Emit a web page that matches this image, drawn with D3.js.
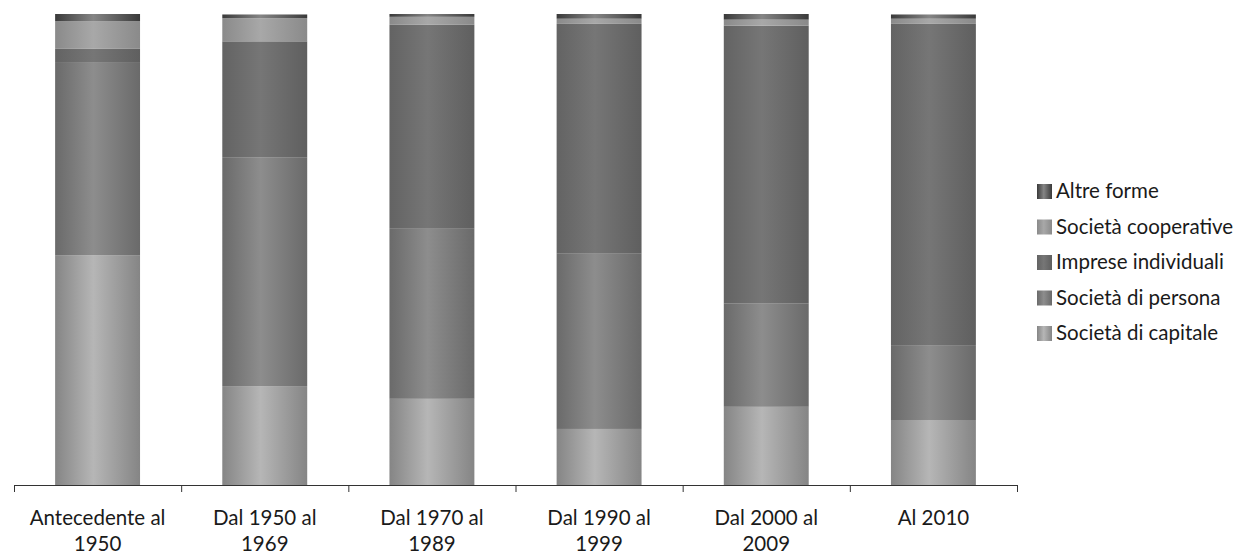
<!DOCTYPE html>
<html><head><meta charset="utf-8">
<script src="https://cdn.jsdelivr.net/npm/d3@7"></script>
<style>
html,body{margin:0;padding:0;background:#fff;}
text{font-family:"Lato","Open Sans",sans-serif;fill:#1a1a1a;}
</style></head>
<body><svg id="chart" width="1236" height="556"></svg>
<script>
const categories = ["Antecedente al\n1950","Dal 1950 al\n1969","Dal 1970 al\n1989","Dal 1990 al\n1999","Dal 2000 al\n2009","Al 2010"];
const seriesNames = ["Società di capitale","Società di persona","Imprese individuali","Società cooperative","Altre forme"];
const capitale    = [48.8, 21.0, 18.3, 11.9, 16.6, 13.8];
const persona     = [41.0, 48.6, 36.1, 37.2, 21.9, 15.9];
const individuali = [ 2.8, 24.6, 43.3, 48.8, 59.0, 68.2];
const cooperative = [ 5.9,  4.9,  1.7,  1.1,  1.3,  1.1];
const altre       = [ 1.5,  0.8,  0.6,  1.0,  1.2,  0.9];
const seriesValues = [capitale, persona, individuali, cooperative, altre];

const grads = [
  ["#858585","#b6b6b6","#858585"],
  ["#6a6a6a","#8d8d8d","#6a6a6a"],
  ["#636363","#767676","#5f5f5f"],
  ["#8a8a8a","#a8a8a8","#8a8a8a"],
  ["#3a3a3a","#858585","#3a3a3a"]
];

const svg = d3.select("#chart");
const mLeft = 14, mRight = 1017, mTop = 14, mBottom = 485;

const x = d3.scaleBand().domain(d3.range(categories.length)).range([mLeft, mRight]).padding(0);
const y = d3.scaleLinear().domain([0, 100]).range([mBottom, mTop]);
const barW = x.bandwidth() * 0.508;

const defs = svg.append("defs");
grads.forEach((g, i) => {
  const lgr = defs.append("linearGradient").attr("id", "g" + i).attr("x1", "0%").attr("x2", "100%").attr("y1", "0%").attr("y2", "0%");
  lgr.append("stop").attr("offset", "0%").attr("stop-color", g[0]);
  lgr.append("stop").attr("offset", "45%").attr("stop-color", g[1]);
  lgr.append("stop").attr("offset", "100%").attr("stop-color", g[2]);
});

const tableData = categories.map((c, i) => {
  const o = {i};
  seriesNames.forEach((s, k) => o[s] = seriesValues[k][i]);
  return o;
});
const stack = d3.stack().keys(seriesNames)(tableData);

svg.append("g").selectAll("g").data(stack).join("g")
  .attr("fill", (d, k) => `url(#g${k})`)
  .selectAll("rect").data(d => d).join("rect")
  .attr("x", d => x(d.data.i) + (x.bandwidth() - barW) / 2)
  .attr("width", barW)
  .attr("y", d => y(d[1]))
  .attr("height", d => y(d[0]) - y(d[1]));

const xb = d3.scaleLinear().domain([0, categories.length]).range([mLeft, mRight]);
const axis = svg.append("g").attr("transform", `translate(0,${mBottom})`)
  .call(d3.axisBottom(xb).tickValues(d3.range(categories.length + 1)).tickFormat("").tickSize(7).tickSizeOuter(0));
axis.selectAll("path,line").attr("stroke", "#333").attr("stroke-width", 1);

const lab = svg.append("g");
categories.forEach((c, i) => {
  const cx = x(i) + x.bandwidth() / 2;
  const t = lab.append("text").attr("x", cx).attr("y", 525)
    .attr("text-anchor", "middle").style("font-size", "20.5px");
  c.split("\n").forEach((line, j) => {
    t.append("tspan").attr("x", cx).attr("dy", j === 0 ? 0 : 26).text(line);
  });
});

const legendOrder = [4, 3, 2, 1, 0];
const lg = svg.append("g");
legendOrder.forEach((k, j) => {
  const base = 198 + j * 35.5;
  lg.append("rect").attr("x", 1037).attr("y", base - 14).attr("width", 15).attr("height", 15).attr("fill", `url(#g${k})`);
  lg.append("text").attr("x", 1056).attr("y", base).style("font-size", "20.5px").text(seriesNames[k]);
});
</script></body></html>
